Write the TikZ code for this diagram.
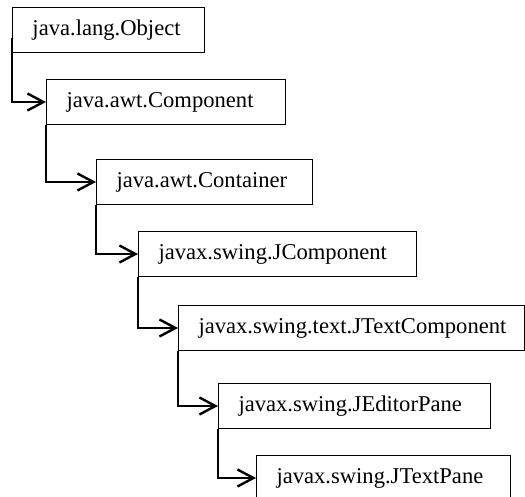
\documentclass[tikz,border=0pt]{standalone}
\usepackage{fontspec}
\setmainfont{Liberation Serif}
\newfontfamily\classfont{Liberation Serif}
\usetikzlibrary{arrows.meta}

\tikzset{
  cls/.style={draw, line width=0.5pt, anchor=north west, minimum height=22.5pt,
    inner xsep=10pt, inner ysep=0pt, align=left, font=\classfont\fontsize{11.3}{13}\selectfont},
  inh/.style={line width=1.2pt, -{Straight Barb[length=8pt,width=8.5pt,line width=1.2pt]}}
}

\begin{document}
\begin{tikzpicture}[x=0.5pt,y=-0.5pt]
  \useasboundingbox (0,0) rectangle (525,497);
  % class boxes
  \node[cls, text width=76pt]    (object)    at (12,7)    {java.lang.Object};
  \node[cls, text width=99.5pt]  (component) at (46,79)   {java.awt.Component};
  \node[cls, text width=88pt]    (container) at (96,159)  {java.awt.Container};
  \node[cls, text width=119pt]   (jcomp)     at (138,231) {javax.swing.JComponent};
  \node[cls, text width=153pt]   (jtextcomp) at (178,305) {javax.swing.text.JTextComponent};
  \node[cls, text width=116pt]   (editor)    at (218,383) {javax.swing.JEditorPane};
  \node[cls, text width=107pt]   (textpane)  at (256,455) {javax.swing.JTextPane};
  % inheritance
  \draw[inh] ([yshift=-4pt]object.west) |- (component.west);
  \draw[inh] (component.south west) |- (container.west);
  \draw[inh] (container.south west) |- (jcomp.west);
  \draw[inh] (jcomp.south west) |- (jtextcomp.west);
  \draw[inh] (jtextcomp.south west) |- (editor.west);
  \draw[inh] (editor.south west) |- (textpane.west);
\end{tikzpicture}
\end{document}
